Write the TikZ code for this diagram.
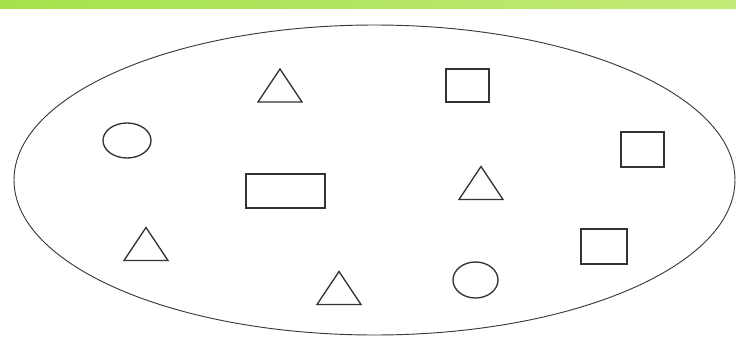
\documentclass[tikz,border=0pt]{standalone}
\usetikzlibrary{shapes.geometric}
\definecolor{barleft}{HTML}{A4E24C}
\definecolor{barright}{HTML}{C2EA78}
\definecolor{inkcol}{HTML}{333333}
\definecolor{setcol}{HTML}{3A3A3A}

\tikzset{
  shapeline/.style={draw=inkcol, line width=1pt, inner sep=0pt, outer sep=0pt},
  boxshape/.style={shapeline, rectangle},
  dotshape/.style={shapeline, ellipse},
  tri/.pic={\draw[inkcol, line width=1pt, line join=miter]
    (-22,16.5) -- (0,-16.5) -- (22,16.5) -- cycle;}
}

\begin{document}
\begin{tikzpicture}[x=0.75pt, y=-0.75pt]

% --- Page and top bar ---
\fill[white] (0,0) rectangle (736,336);
\useasboundingbox (0,0) rectangle (736,336);
\shade[left color=barleft, right color=barright] (0,0) rectangle (736,8);

% --- The set ---
\node[draw=setcol, line width=0.7pt, ellipse, inner sep=0pt,
  minimum width=540.75pt, minimum height=232.5pt] (set) at (374.5,180) {};

% --- Triangles ---
\pic (triA) at (280,85.5) {tri};
\pic (triB) at (146,244) {tri};
\pic (triC) at (481,183) {tri};
\pic (triD) at (339,288) {tri};

% --- Circles ---
\node[dotshape, minimum width=36pt, minimum height=26.25pt] (dotA) at (127,140.5) {};
\node[dotshape, minimum width=33.75pt, minimum height=27pt] (dotB) at (475.5,280) {};

% --- Rectangles ---
\node[boxshape, minimum width=32.25pt, minimum height=24.75pt] (boxA) at (467.5,85.5) {};
\node[boxshape, minimum width=59.25pt, minimum height=25.5pt] (boxB) at (285.5,191) {};
\node[boxshape, minimum width=32.25pt, minimum height=26.25pt] (boxC) at (642.5,149.5) {};
\node[boxshape, minimum width=34.5pt, minimum height=26.25pt] (boxD) at (604,246.5) {};

\end{tikzpicture}
\end{document}
